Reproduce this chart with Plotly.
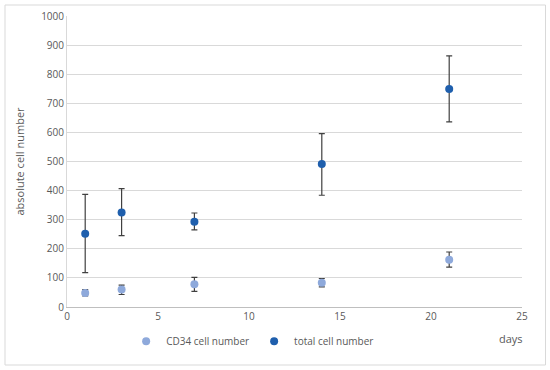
import plotly.graph_objects as go

days = [1, 3, 7, 14, 21]
cd34 = [48, 60, 78, 83, 162]
cd34_hi = [60, 75, 102, 98, 189]
cd34_lo = [38, 43, 54, 69, 137]
total = [252, 325, 293, 491, 749]
total_hi = [387, 407, 323, 596, 863]
total_lo = [118, 245, 265, 384, 636]

FONT = "Open Sans"
GRAY = "#595959"

def err(vals, hi, lo):
    return dict(type="data", symmetric=False,
                array=[h - v for h, v in zip(hi, vals)],
                arrayminus=[v - l for v, l in zip(vals, lo)],
                color="#404040", thickness=1.2, width=3)

fig = go.Figure()
fig.add_trace(go.Scatter(x=days, y=cd34, mode="markers", name="CD34 cell number",
                         marker=dict(color="#8EA9DB", size=8),
                         error_y=err(cd34, cd34_hi, cd34_lo)))
fig.add_trace(go.Scatter(x=days, y=total, mode="markers", name="total cell number",
                         marker=dict(color="#1F5FAD", size=8),
                         error_y=err(total, total_hi, total_lo)))

fig.update_layout(
    width=550, height=370,
    margin=dict(l=67, r=28, t=16, b=63, autoexpand=False),
    paper_bgcolor="white", plot_bgcolor="white",
    font=dict(family=FONT, size=10, color=GRAY),
    showlegend=True,
    legend=dict(orientation="h", x=0.408, xanchor="center", y=-0.118, yanchor="middle",
                font=dict(size=10, color=GRAY), itemwidth=30, tracegroupgap=0),
    xaxis=dict(range=[0, 25], dtick=5, showgrid=False, zeroline=False, automargin=False,
               showline=True, linecolor="#BFBFBF", linewidth=1,
               ticks="", tickfont=dict(size=10, color=GRAY)),
    yaxis=dict(range=[0, 1000], dtick=100, showgrid=True, gridcolor="#D9D9D9", automargin=False,
               zeroline=False, showline=True, linecolor="#D9D9D9", linewidth=1,
               ticks="", tickfont=dict(size=10, color=GRAY),
               title=dict(text="absolute cell number", font=dict(size=11, color=GRAY), standoff=14)),
    shapes=[dict(type="rect", xref="paper", yref="paper",
                 x0=(5 - 67) / 455, x1=(545.5 - 67) / 455,
                 y0=(307 - 365) / 291, y1=(307 - 5) / 291,
                 line=dict(color="#D9D9D9", width=1), fillcolor="rgba(0,0,0,0)", layer="below")],
    annotations=[dict(text="days", xref="paper", yref="paper",
                      x=(511 - 67) / 455, y=(307 - 338) / 291, showarrow=False,
                      xanchor="center", yanchor="middle",
                      font=dict(size=11, color=GRAY))],
)

fig.write_html("out.html", config={"displayModeBar": False},
               post_script="document.body.style.margin='0';document.body.style.overflow='hidden';")
